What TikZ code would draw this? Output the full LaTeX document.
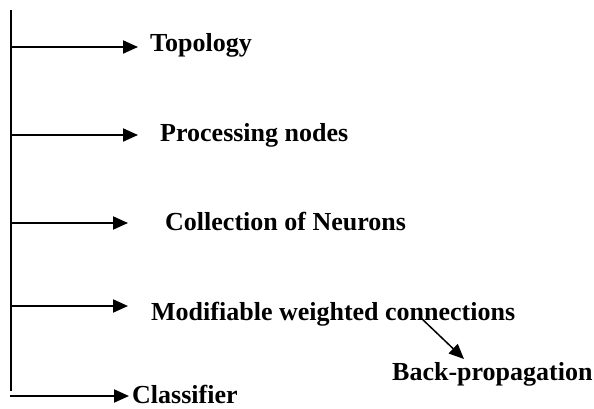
\documentclass[tikz,border=0pt]{standalone}
\usepackage{fontspec}
\setmainfont{Liberation Serif}
\usetikzlibrary{arrows.meta}
\begin{document}
\begin{tikzpicture}[x=1pt,y=-1pt,
  conn/.style={line width=2pt,-{Triangle[length=15pt,width=13pt]}},
  lbl/.style={anchor=base west,inner sep=0pt,font=\fontsize{26}{30}\selectfont\bfseries}]
\useasboundingbox (0,0) rectangle (594,409);
\coordinate (top) at (11,10);
\coordinate (bot) at (11,391);
\draw[line width=2pt] (top) -- (bot);
\coordinate (s1) at (10,47);
\coordinate (s2) at (10,135);
\coordinate (s3) at (10,223);
\coordinate (s4) at (10,306);
\coordinate (s5) at (10,396);
\coordinate (e1) at (138,47);
\coordinate (e2) at (138,135);
\coordinate (e3) at (128,223);
\coordinate (e4) at (128,306);
\coordinate (e5) at (129,396);
\node[lbl] (topo) at (150,52) {Topology};
\node[lbl] (proc) at (160,142) {Processing nodes};
\node[lbl] (coll) at (165,230) {Collection of Neurons};
\node[lbl] (mod) at (151,320) {Modifiable weighted connections};
\node[lbl] (back) at (392,380) {Back-propagation};
\node[lbl] (cls) at (132,403) {Classifier};
\draw[conn] (s1) -- (e1);
\draw[conn] (s2) -- (e2);
\draw[conn] (s3) -- (e3);
\draw[conn] (s4) -- (e4);
\draw[conn] (s5) -- (e5);
\coordinate (b1) at (420,317);
\coordinate (b2) at (464,359);
\draw[conn,line width=1.5pt] (b1) -- (b2);
\end{tikzpicture}
\end{document}
